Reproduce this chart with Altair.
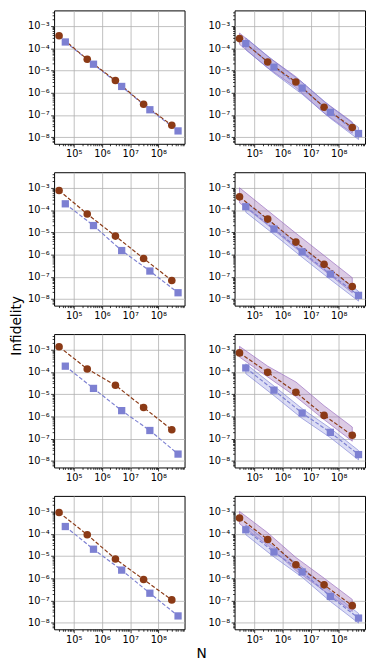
import altair as alt
import pandas as pd

# x positions of the two series
N_circ = [3e4, 3e5, 3e6, 3e7, 3e8]
N_sq = [5e4, 5e5, 5e6, 5e7, 5e8]

# panel order: row-major (r1 left, r1 right, r2 left, ...)
circ_vals = [
    [3.6e-4, 3.2e-5, 3.5e-6, 3.0e-7, 3.4e-8],
    [2.7e-4, 2.4e-5, 3.0e-6, 2.2e-7, 2.7e-8],
    [7.6e-4, 6.6e-5, 6.7e-6, 6.6e-7, 6.8e-8],
    [3.9e-4, 3.9e-5, 3.6e-6, 3.6e-7, 3.6e-8],
    [1.35e-3, 1.35e-4, 2.5e-5, 2.5e-6, 2.5e-7],
    [7.1e-4, 9.5e-5, 1.2e-5, 1.1e-6, 1.4e-7],
    [9.0e-4, 9.0e-5, 7.3e-6, 8.7e-7, 1.05e-7],
    [5.1e-4, 5.5e-5, 4.0e-6, 5.0e-7, 5.8e-8],
]
sq_vals = [
    [1.9e-4, 1.9e-5, 1.9e-6, 1.7e-7, 1.9e-8],
    [1.6e-4, 1.4e-5, 1.6e-6, 1.3e-7, 1.45e-8],
    [1.9e-4, 2.0e-5, 1.5e-6, 1.8e-7, 1.9e-8],
    [1.4e-4, 1.4e-5, 1.3e-6, 1.3e-7, 1.45e-8],
    [1.8e-4, 1.8e-5, 1.8e-6, 2.3e-7, 2.0e-8],
    [1.5e-4, 1.5e-5, 1.4e-6, 1.9e-7, 1.9e-8],
    [2.1e-4, 2.0e-5, 2.3e-6, 2.1e-7, 2.0e-8],
    [1.5e-4, 1.5e-5, 1.9e-6, 1.5e-7, 1.6e-8],
]

# shaded bands (right-hand panels only)
circ_hi = {
    1: [4.8e-4, 4.3e-5, 5.2e-6, 4.0e-7, 4.8e-8],
    3: [1.0e-3, 9.5e-5, 9.0e-6, 9.0e-7, 9.0e-8],
    5: [1.4e-3, 1.8e-4, 3.5e-5, 3.0e-6, 3.3e-7],
    7: [1.0e-3, 1.1e-4, 8.5e-6, 1.0e-6, 1.1e-7],
}
circ_lo = {
    1: [1.5e-4, 1.3e-5, 1.7e-6, 1.2e-7, 1.5e-8],
    3: [2.1e-4, 2.1e-5, 1.9e-6, 1.9e-7, 1.9e-8],
    5: [4.6e-4, 5.9e-5, 7.6e-6, 7.1e-7, 7.6e-8],
    7: [2.8e-4, 3.0e-5, 2.2e-6, 2.7e-7, 3.2e-8],
}
sq_hi = {
    1: [2.9e-4, 2.6e-5, 2.9e-6, 2.4e-7, 2.7e-8],
    3: [2.2e-4, 2.2e-5, 2.0e-6, 2.0e-7, 2.2e-8],
    5: [2.3e-4, 2.3e-5, 2.2e-6, 2.9e-7, 2.9e-8],
    7: [2.5e-4, 2.5e-5, 3.1e-6, 2.5e-7, 2.6e-8],
}
sq_lo = {
    1: [8.5e-5, 7.5e-6, 8.5e-7, 7.0e-8, 7.8e-9],
    3: [8.0e-5, 8.0e-6, 7.5e-7, 7.5e-8, 8.0e-9],
    5: [8.3e-5, 8.5e-6, 8.0e-7, 1.1e-7, 1.1e-8],
    7: [9.0e-5, 9.0e-6, 1.1e-6, 9.0e-8, 9.5e-9],
}

# tick labels
x_decades = [1e5, 1e6, 1e7, 1e8]
x_labels = ["10⁵", "10⁶", "10⁷", "10⁸"]
y_decades = [1e-8, 1e-7, 1e-6, 1e-5, 1e-4, 1e-3]
y_labels = ["10⁻⁸", "10⁻⁷", "10⁻⁶", "10⁻⁵", "10⁻⁴", "10⁻³"]

X_DOMAIN = [2e4, 8.5e8]
Y_DOMAIN = [5e-9, 5e-3]

BROWN = "#8b3a16"
BLUE = "#7d80d2"


def minor_ticks(lo_exp, hi_exp, dom):
    out = []
    for e in range(lo_exp, hi_exp + 1):
        for k in range(1, 10):
            v = float(f"{k}e{e}")
            if dom[0] * 1.02 < v < dom[1] * 0.98:
                out.append(v)
    return out


x_ticks = minor_ticks(4, 8, X_DOMAIN)
y_ticks = minor_ticks(-9, -3, Y_DOMAIN)


def label_expr(vals, labels):
    parts = [f"datum.value == {v!r} ? '{l}'" for v, l in zip(vals, labels)]
    return " : ".join(parts) + " : ''"


def decade_test(vals):
    return "indexof([" + ",".join(repr(v) for v in vals) + "], datum.value) >= 0"


def make_axis(vals, labels, ticks):
    test = decade_test(vals)
    return alt.Axis(
        values=ticks,
        labelExpr=label_expr(vals, labels),
        tickSize={"condition": {"test": test, "value": 3.5}, "value": 2},
        gridOpacity={"condition": {"test": test, "value": 1}, "value": 0},
        title=None,
        labelOverlap=False,
        labelFlush=False,
        domain=False,
    )


xscale = alt.Scale(type="log", domain=X_DOMAIN, nice=False)
yscale = alt.Scale(type="log", domain=Y_DOMAIN, nice=False)
xaxis = make_axis(x_decades, x_labels, x_ticks)
yaxis = make_axis(y_decades, y_labels, y_ticks)


def panel(i):
    x = alt.X("N:Q", scale=xscale, axis=xaxis)
    layers = []
    if i in circ_hi:
        bc = pd.DataFrame({"N": N_circ, "lo": circ_lo[i], "hi": circ_hi[i]})
        bs = pd.DataFrame({"N": N_sq, "lo": sq_lo[i], "hi": sq_hi[i]})
        layers.append(
            alt.Chart(bc).mark_area(fill="#9b6bb5", fillOpacity=0.35, stroke="#9467bd",
                                    strokeWidth=0.8, strokeOpacity=0.8)
            .encode(x=x, y=alt.Y("lo:Q", scale=yscale, axis=yaxis), y2="hi:Q")
        )
        layers.append(
            alt.Chart(bs).mark_area(fill="#8a8fdd", fillOpacity=0.3, stroke="#7b7fd4",
                                    strokeWidth=0.8, strokeOpacity=0.8)
            .encode(x=x, y=alt.Y("lo:Q", scale=yscale, axis=yaxis), y2="hi:Q")
        )
    dc = pd.DataFrame({"N": N_circ, "v": circ_vals[i]})
    ds = pd.DataFrame({"N": N_sq, "v": sq_vals[i]})
    y = alt.Y("v:Q", scale=yscale, axis=yaxis)
    layers.append(alt.Chart(ds).mark_line(color=BLUE, strokeDash=[4, 2], strokeWidth=1.2).encode(x=x, y=y))
    layers.append(alt.Chart(dc).mark_line(color=BROWN, strokeDash=[4, 2], strokeWidth=1.2).encode(x=x, y=y))
    layers.append(alt.Chart(dc).mark_point(shape="circle", filled=True, size=60, color=BROWN, opacity=1).encode(x=x, y=y))
    layers.append(alt.Chart(ds).mark_point(shape="square", filled=True, size=55, color=BLUE, opacity=1).encode(x=x, y=y))
    return alt.layer(*layers).properties(width=133, height=136)


rows = [alt.hconcat(panel(2 * r), panel(2 * r + 1), spacing=22) for r in range(4)]

inner = alt.vconcat(
    *rows,
    spacing=9,
    title=alt.TitleParams(text="Infidelity", orient="left", anchor="middle", fontSize=14,
                          fontWeight="normal", font="DejaVu Sans", color="black", offset=3),
)

chart = (
    alt.vconcat(
        inner,
        title=alt.TitleParams(text="N", orient="bottom", anchor="middle", fontSize=14,
                              fontWeight="normal", font="DejaVu Sans", color="black", offset=3,
                              dx=14),
    )
    .properties(padding={"top": -8, "left": 2, "right": 0, "bottom": 0})
    .configure_view(stroke="black", strokeWidth=1)
    .configure_axis(
        labelFont="DejaVu Sans",
        labelFontSize=10,
        labelColor="black",
        labelPadding=1.5,
        tickColor="black",
        tickWidth=0.8,
        gridColor="#b0b0b0",
        gridWidth=0.8,
    )
)

chart.save("out.html", embed_options={"renderer": "svg", "actions": False})
